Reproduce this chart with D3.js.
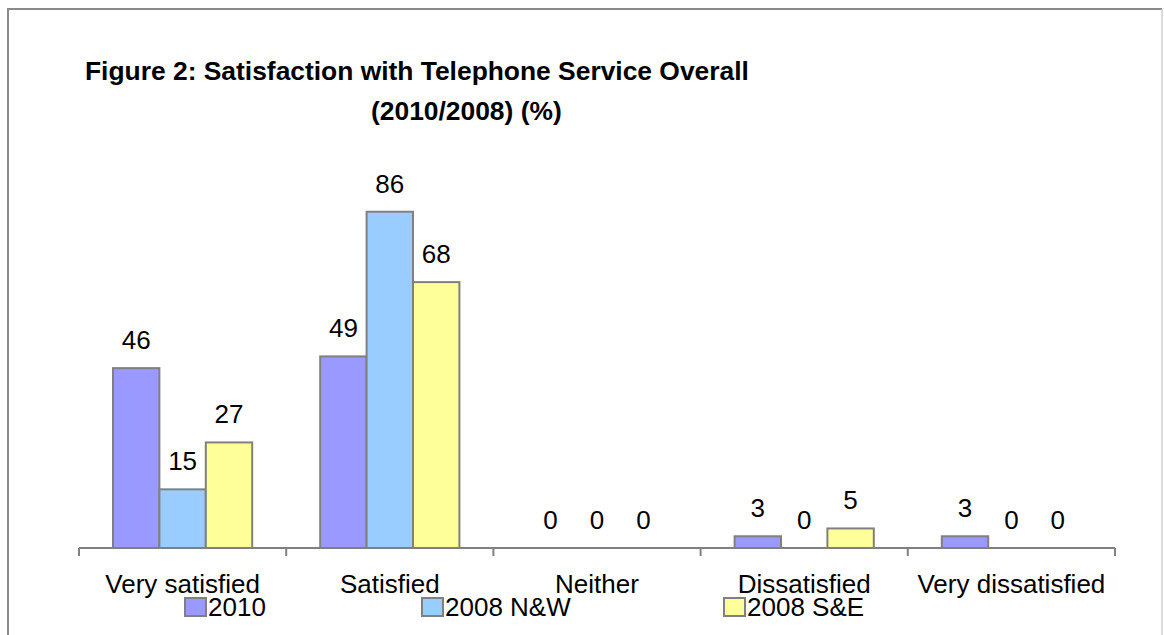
<!DOCTYPE html>
<html>
<head>
<meta charset="utf-8">
<script src="https://d3js.org/d3.v7.min.js"></script>
<style>
    body { margin: 0; background: #fff; }
    text { font-family: "Liberation Sans", Arial, sans-serif; fill: #000; }
    .title { font-size: 26.4px; font-weight: bold; }
    .label { font-size: 26px; }
</style>
</head>
<body>
<div id="chart"></div>
<script>
// data
const categories = ["Very satisfied", "Satisfied", "Neither", "Dissatisfied", "Very dissatisfied"];
const seriesNames = ["2010", "2008 N&W", "2008 S&E"];
const values2010 = [46, 49, 0, 3, 3];
const valuesNW = [15, 86, 0, 0, 0];
const valuesSE = [27, 68, 0, 5, 0];
const colors = ["#9999ff", "#99ccff", "#ffff99"];

const W = 1164, H = 635;
const svg = d3.select("#chart").append("svg")
    .attr("width", W).attr("height", H);

// outer frame
svg.append("path")
    .attr("d", "M8,640 L8,9 L1162,9")
    .attr("fill", "none").attr("stroke", "#8a8a8a").attr("stroke-width", 2);
svg.append("line")
    .attr("x1", 1162).attr("x2", 1162).attr("y1", 9).attr("y2", 640)
    .attr("stroke", "#d0d0d0").attr("stroke-width", 1.5);

// title
svg.append("text").attr("class", "title").attr("x", 85).attr("y", 80)
    .text("Figure 2: Satisfaction with Telephone Service Overall");
svg.append("text").attr("class", "title").attr("x", 371).attr("y", 120)
    .text("(2010/2008) (%)");

const x0 = d3.scaleBand().domain(categories).range([79, 1115]);
const x1 = d3.scaleBand().domain(seriesNames).range([34, x0.bandwidth() - 34]);
const y = d3.scaleLinear().domain([0, 100]).range([548, 157]);

const data = categories.map((c, i) => ({
    cat: c,
    vals: [values2010[i], valuesNW[i], valuesSE[i]]
}));

const groups = svg.selectAll(".grp").data(data).enter().append("g")
    .attr("transform", d => `translate(${x0(d.cat)},0)`);

groups.selectAll("rect").data(d => d.vals.map((v, j) => ({ s: seriesNames[j], v: v, j: j })))
    .enter().filter(d => d.v > 0).append("rect")
    .attr("x", d => x1(d.s))
    .attr("y", d => y(d.v))
    .attr("width", x1.bandwidth())
    .attr("height", d => y(0) - y(d.v))
    .attr("fill", d => colors[d.j])
    .attr("stroke", "#808080")
    .attr("stroke-width", 2);

groups.selectAll(".val").data(d => d.vals.map((v, j) => ({ s: seriesNames[j], v: v })))
    .enter().append("text")
    .attr("class", "label")
    .attr("text-anchor", "middle")
    .attr("x", d => x1(d.s) + x1.bandwidth() / 2)
    .attr("y", d => y(d.v) - 19)
    .text(d => d.v);

// x axis
const axis = svg.append("g").attr("transform", `translate(0,${y(0)})`);
axis.append("line").attr("x1", 79).attr("x2", 1115)
    .attr("stroke", "#808080").attr("stroke-width", 2);
const tickPos = categories.map(c => x0(c)).concat([x0.range()[1]]);
axis.selectAll(".tick").data(tickPos).enter().append("line")
    .attr("x1", d => d).attr("x2", d => d).attr("y1", 0).attr("y2", 8)
    .attr("stroke", "#808080").attr("stroke-width", 2);
axis.selectAll(".cat").data(categories).enter().append("text")
    .attr("class", "label").attr("text-anchor", "middle")
    .attr("x", d => x0(d) + x0.bandwidth() / 2)
    .attr("y", 45)
    .text(d => d);

// legend
const legendX = [185, 422, 724];
const legend = svg.selectAll(".leg").data(seriesNames).enter().append("g")
    .attr("transform", (d, i) => `translate(${legendX[i]},598)`);
legend.append("rect").attr("width", 21).attr("height", 18)
    .attr("fill", (d, i) => colors[i]).attr("stroke", "#808080").attr("stroke-width", 2);
legend.append("text").attr("class", "label").attr("x", 23).attr("y", 18).text(d => d);
</script>
</body>
</html>
